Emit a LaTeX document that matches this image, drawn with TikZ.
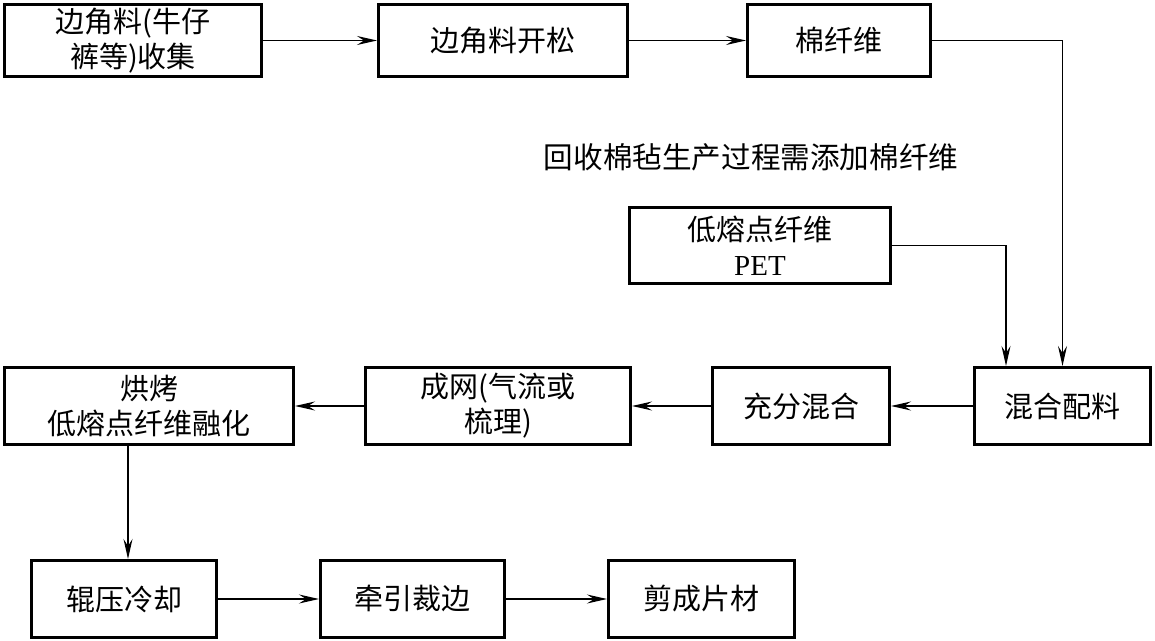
\documentclass[tikz,border=0pt]{standalone}
\usepackage{fontspec}
\setmainfont{Liberation Serif}
\newfontfamily\cjk{Noto Sans CJK SC}
\usetikzlibrary{arrows.meta}
\begin{document}
\begin{tikzpicture}[x=0.5pt,y=-0.5pt,
  box/.style={draw, line width=1.5pt, inner sep=0pt, minimum height=36pt, align=center,
    font=\cjk\fontsize{14.5}{17.5}\selectfont},
  conn/.style={line width=0.65pt, -{Stealth[length=10pt,width=4.5pt,inset=3.5pt]}},
  note/.style={font=\cjk\fontsize{14.8}{18}\selectfont}]
\useasboundingbox (0,0) rectangle (1155,641);
% top row
\node[box, minimum width=128.5pt] (b1) at (133,40.5) {边角料(牛仔\\裤等)收集};
\node[box, minimum width=124.5pt] (b2) at (503,40.5) {边角料开松};
\node[box, minimum width=91.5pt] (b3) at (839,40.5) {棉纤维};
% annotation
\node[note] (nt) at (751,157) {回收棉毡生产过程需添加棉纤维};
% PET box
\node[box, minimum width=130.5pt, minimum height=38pt] (pet) at (760,245.5) {低熔点纤维\\{\rmfamily PET}};
% middle row
\node[box, minimum width=88pt, minimum height=38.5pt] (mix) at (1062.5,406) {混合配料};
\node[box, minimum width=88.5pt, minimum height=38.5pt] (full) at (801,406) {充分混合};
\node[box, minimum width=132.5pt, minimum height=38.5pt] (web) at (498,406) {成网(气流或\\梳理)};
\node[box, minimum width=144.5pt, minimum height=38.5pt] (bake) at (149,406) {烘烤\\低熔点纤维融化};
% bottom row
\node[box, minimum width=92.5pt, minimum height=38.5pt] (roll) at (124,599) {辊压冷却};
\node[box, minimum width=92pt, minimum height=38.5pt] (pull) at (412.5,599) {牵引裁边};
\node[box, minimum width=93pt, minimum height=38.5pt] (cut) at (701.5,599) {剪成片材};
% helper coordinates
\coordinate (petdrop) at (1006,0);
\coordinate (bakex) at (128,0);
% connectors
\draw[conn] (b1) -- (b2);
\draw[conn] (b2) -- (b3);
\draw[conn] (b3.east) -| (mix.north);
\draw[conn] (pet.east) -| (mix.north -| petdrop);
\draw[conn] (mix) -- (full);
\draw[conn] (full) -- (web);
\draw[conn] (web) -- (bake);
\draw[conn] (bake.south -| bakex) -- (roll.north -| bakex);
\draw[conn] (roll) -- (pull);
\draw[conn] (pull) -- (cut);
\end{tikzpicture}
\end{document}
